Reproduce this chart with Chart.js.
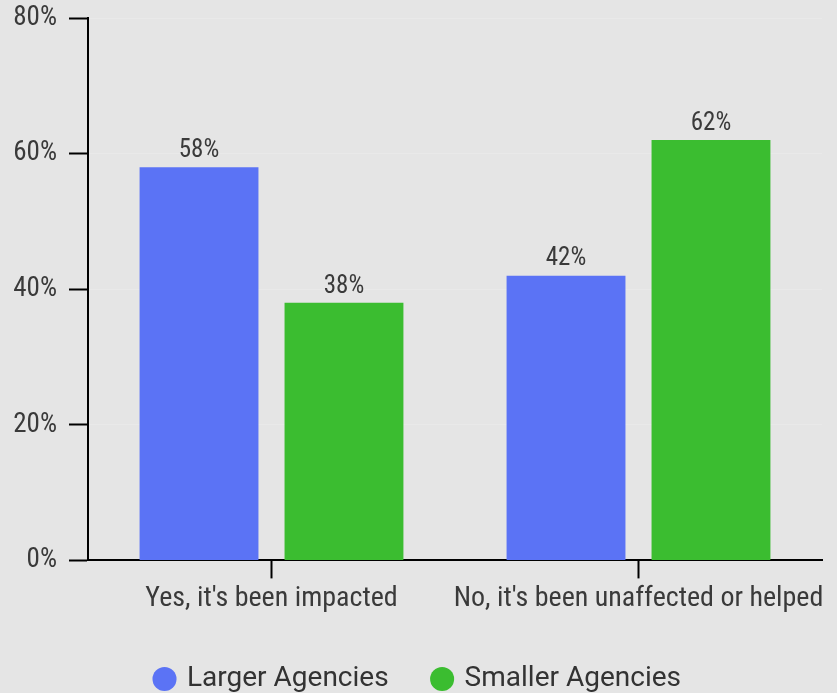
<!DOCTYPE html>
<html>
<head>
<meta charset="utf-8">
<script src="https://cdn.jsdelivr.net/npm/chart.js@4/dist/chart.umd.min.js"></script>
<style>
  html, body { margin: 0; padding: 0; background: #e5e5e5; }
  #wrap { width: 837px; height: 693px; }
</style>
</head>
<body>
<div id="wrap"><canvas id="chart" width="837" height="693"></canvas></div>
<script>
// Survey answers by agency size (percent of respondents)
const categories = ["Yes, it's been impacted", "No, it's been unaffected or helped"];
const largerAgencies = [58, 42];
const smallerAgencies = [38, 62];
const seriesNames = ["Larger Agencies", "Smaller Agencies"];
const yTicks = [0, 20, 40, 60, 80];

const condensed = "'Roboto Condensed', 'Liberation Sans Narrow', 'DejaVu Sans Condensed', Roboto, sans-serif";

// Writes each bar's value just above it
const valueLabels = {
  id: 'valueLabels',
  afterDatasetsDraw(chart) {
    const ctx = chart.ctx;
    ctx.save();
    ctx.font = "25px " + condensed;
    ctx.fillStyle = '#3a3a3a';
    ctx.textAlign = 'center';
    ctx.textBaseline = 'bottom';
    chart.data.datasets.forEach((ds, i) => {
      chart.getDatasetMeta(i).data.forEach((bar, j) => {
        ctx.fillText(ds.data[j] + '%', bar.x, bar.y - 4);
      });
    });
    ctx.restore();
  }
};

new Chart(document.getElementById('chart'), {
  type: 'bar',
  data: {
    labels: categories,
    datasets: [
      { label: seriesNames[0], data: largerAgencies, backgroundColor: '#5b73f5' },
      { label: seriesNames[1], data: smallerAgencies, backgroundColor: '#3bbd30' }
    ]
  },
  options: {
    responsive: false,
    animation: false,
    categoryPercentage: 0.79,
    barPercentage: 0.82,
    layout: { padding: { top: 0, right: 0, left: 0, bottom: -10 } },
    plugins: {
      legend: {
        position: 'bottom',
        labels: {
          usePointStyle: true,
          pointStyle: 'circle',
          boxHeight: 17,
          boxWidth: 17,
          padding: 45,
          color: '#333',
          font: { family: "Roboto, 'Liberation Sans', sans-serif", size: 28 }
        }
      },
      tooltip: { enabled: false }
    },
    scales: {
      x: {
        grid: {
          offset: false,
          drawOnChartArea: false,
          tickColor: '#000',
          tickLength: 18,
          tickWidth: 2
        },
        border: { color: '#000', width: 2 },
        ticks: {
          color: '#3a3a3a',
          padding: 4,
          maxRotation: 0,
          autoSkip: false,
          font: { family: condensed, size: 28 }
        }
      },
      y: {
        min: 0,
        max: 80,
        afterBuildTicks(axis) { axis.ticks = yTicks.map(v => ({ value: v })); },
        afterFit(axis) { axis.width = 88; axis.paddingTop = 18; },
        grid: {
          color: '#e9e9e9',
          lineWidth: 1,
          tickColor: '#000',
          tickLength: 19,
          tickWidth: 2
        },
        border: { color: '#000', width: 2 },
        ticks: {
          color: '#3a3a3a',
          padding: 12,
          font: { family: condensed, size: 27 },
          callback: v => v + '%'
        }
      },
      // empty right-hand margin strip
      yRight: {
        position: 'right',
        display: true,
        afterFit(axis) { axis.width = 15; },
        grid: { display: false },
        border: { display: false },
        ticks: { display: false }
      }
    }
  },
  plugins: [valueLabels]
});
</script>
</body>
</html>
